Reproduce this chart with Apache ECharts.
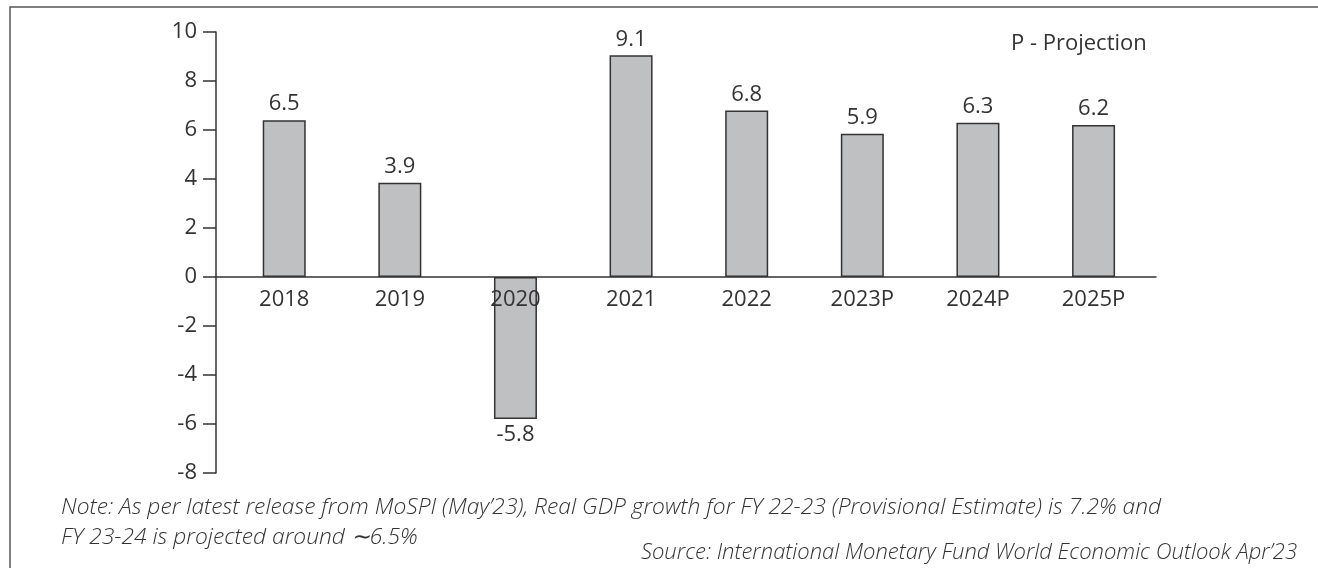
<!DOCTYPE html>
<html>
<head>
<meta charset="utf-8">
<script src="https://cdn.jsdelivr.net/npm/echarts@6/dist/echarts.min.js"></script>
<style>
  html, body { margin: 0; padding: 0; background: #fff; }
  #chart { width: 1318px; height: 568px; }
</style>
</head>
<body>
<div id="chart"></div>
<script>
// years on the x axis
const categories = ['2018', '2019', '2020', '2021', '2022', '2023P', '2024P', '2025P'];
// bar heights as drawn
const growth = [6.4, 3.85, -5.8, 9.05, 6.8, 5.85, 6.3, 6.2];
// printed value labels
const valueLabels = ['6.5', '3.9', '-5.8', '9.1', '6.8', '5.9', '6.3', '6.2'];
const yTicks = [-8, -6, -4, -2, 0, 2, 4, 6, 8, 10];

const fontFamily = '"Open Sans", "Noto Sans", sans-serif';
const ink = '#333';

const xMin = -0.59, xMax = 7.54;
const categoryIndex = categories.map((c, i) => i);

const chart = echarts.init(document.getElementById('chart'));

const option = {
  animation: false,
  backgroundColor: '#fff',
  grid: [
    { left: 216, right: 162, top: 32, bottom: 95 },
    // upper half only, so its bottom edge sits on the zero line and carries the year labels
    { left: 216, right: 162, top: 32, height: 245 }
  ],
  xAxis: [
    {
      type: 'value',
      gridIndex: 0,
      min: xMin,
      max: xMax,
      splitLine: { show: false },
      axisLine: { show: true, onZero: true, lineStyle: { color: ink, width: 1.5 } },
      axisTick: { show: false },
      axisLabel: { show: false }
    },
    {
      type: 'value',
      gridIndex: 1,
      min: xMin,
      max: xMax,
      z: 5,
      splitLine: { show: false },
      axisLine: { show: false },
      axisTick: { show: false },
      axisLabel: {
        customValues: categoryIndex,
        formatter: (v) => categories[Math.round(v)],
        color: ink,
        fontSize: 22,
        fontFamily: fontFamily,
        margin: 12
      }
    }
  ],
  yAxis: [
    {
      type: 'value',
      gridIndex: 0,
      min: yTicks[0],
      max: yTicks[yTicks.length - 1],
      interval: 2,
      splitLine: { show: false },
      axisLine: { show: true, onZero: false, lineStyle: { color: ink, width: 1.5 } },
      axisTick: { show: true, inside: false, length: 13, lineStyle: { color: ink, width: 1.5 } },
      axisLabel: { color: ink, fontSize: 22, fontFamily: fontFamily, margin: 19 }
    },
    {
      type: 'value',
      gridIndex: 1,
      min: 0,
      max: 10,
      show: false
    }
  ],
  series: [
    {
      type: 'bar',
      xAxisIndex: 0,
      yAxisIndex: 0,
      barWidth: 43,
      data: growth.map((v, i) => ({
        value: [i, v],
        label: { position: v < 0 ? 'bottom' : 'top' }
      })),
      itemStyle: { color: '#bfc0c2', borderColor: ink, borderWidth: 1.5 },
      label: {
        show: true,
        distance: 5,
        color: ink,
        fontSize: 22,
        fontFamily: fontFamily,
        formatter: (p) => valueLabels[p.dataIndex]
      }
    }
  ],
  graphic: [
    {
      type: 'rect',
      shape: { x: 10, y: 7, width: 1400, height: 700 },
      style: { fill: 'none', stroke: '#555', lineWidth: 1.5 },
      silent: true
    },
    {
      type: 'text',
      left: 1011,
      top: 33,
      style: { text: 'P - Projection', fill: ink, font: '22px ' + fontFamily }
    },
    {
      type: 'text',
      left: 61,
      top: 493,
      style: {
        text: 'Note: As per latest release from MoSPI (May\u201923), Real GDP growth for FY 22-23 (Provisional Estimate) is 7.2% and\nFY 23-24 is projected around \u223c6.5%',
        fill: ink,
        lineHeight: 30,
        font: 'italic 300 22.8px ' + fontFamily
      }
    },
    {
      type: 'text',
      right: 21,
      top: 542,
      style: {
        text: 'Source: International Monetary Fund World Economic Outlook Apr\u201923',
        fill: ink,
        font: 'italic 300 22px ' + fontFamily
      }
    }
  ]
};

chart.setOption(option);
</script>
</body>
</html>
